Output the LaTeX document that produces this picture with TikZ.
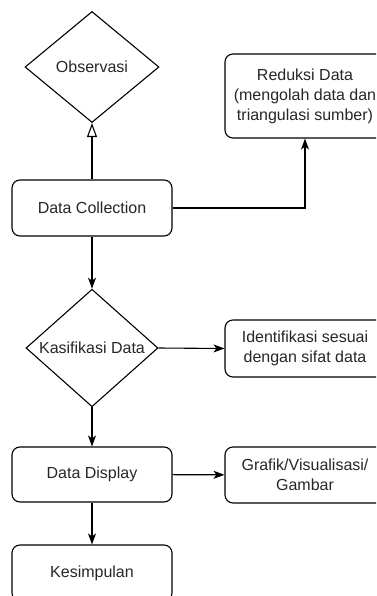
\documentclass[tikz,border=0pt]{standalone}
\usepackage{fontspec}
\setmainfont{Liberation Sans}
\usetikzlibrary{shapes.geometric,arrows.meta}
\begin{document}
\begin{tikzpicture}[x=1pt,y=-1pt,
  every node/.style={font=\fontsize{16}{20}\selectfont, text=black!85},
  box/.style={draw, line width=1.1pt, rounded corners=8pt, minimum width=160pt, inner sep=0pt, align=center},
  dia/.style={draw, line width=1.1pt, diamond, inner sep=0pt, minimum width=134pt, minimum height=111pt},
  link/.style={line width=1.1pt, -{Stealth[length=11pt,width=8pt,inset=3pt]}},
  openlink/.style={line width=1.1pt, -{Triangle[open,length=14pt,width=10pt]}}]
\useasboundingbox (0,0) rectangle (376,596);
\clip (0,0) rectangle (376,596);
\node[dia] (obs) at (92,67) {Observasi};
\node[box, minimum height=56pt] (dc) at (92,208) {Data Collection};
\node[box, minimum height=84pt] (red) at (305,96) {Reduksi Data\\(mengolah data dan\\triangulasi sumber)};
\node[dia, minimum width=132pt, minimum height=110pt] (kas) at (92,348) {Kasifikasi Data};
\node[box, minimum height=57pt] (idf) at (305,348.5) {Identifikasi sesuai\\dengan sifat data};
\node[box, minimum height=55pt] (dd) at (92,474.5) {Data Display};
\node[box, minimum height=56pt] (gr) at (305,475) {Grafik/Visualisasi/\\Gambar};
\node[box, minimum height=56pt] (kes) at (92,573) {Kesimpulan};
\draw[openlink] (dc) -- (obs);
\draw[link] (dc.east) -| (red.south);
\draw[link] (dc) -- (kas);
\draw[link] (kas.east) -- (idf.west);
\draw[link] (kas) -- (dd);
\draw[link] (dd) -- (gr);
\draw[link] (dd) -- (kes);
\end{tikzpicture}
\end{document}
